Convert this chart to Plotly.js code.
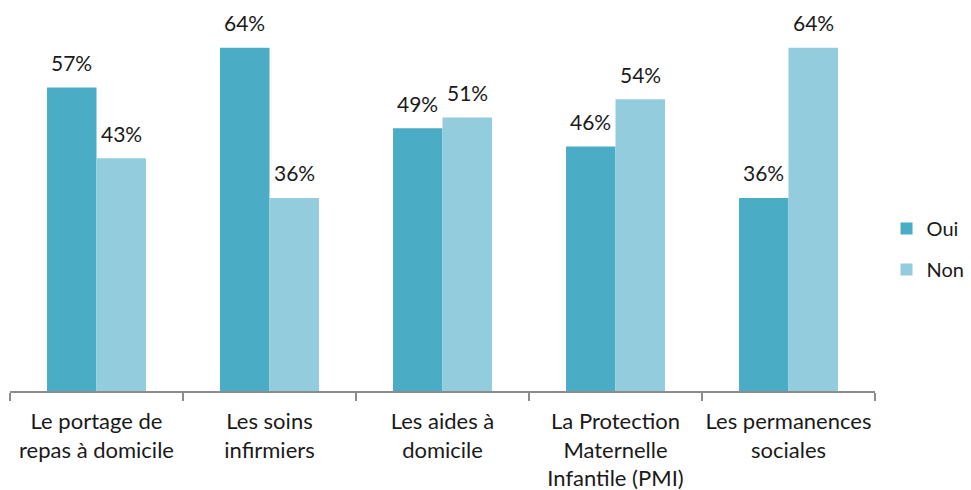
<!DOCTYPE html>
<html><head><meta charset="utf-8">
<script src="https://cdn.plot.ly/plotly-3.0.1.min.js"></script>
<style>body{margin:0;background:#fff}#c{width:971px;height:490px}</style>
</head><body><div id="c"></div>
<script>
var categories = ["Le portage de<br>repas à domicile", "Les soins<br>infirmiers", "Les aides à<br>domicile", "La Protection<br>Maternelle<br>Infantile (PMI)", "Les permanences<br>sociales"];
var ouiValues = [56.6, 64, 49, 45.6, 36];
var nonValues = [43.4, 36, 51, 54.4, 64];
var ouiLabels = ["57%", "64%", "49%", "46%", "36%"];
var nonLabels = ["43%", "36%", "51%", "54%", "64%"];

var font = "Lato, 'Open Sans', sans-serif";
var traces = [
  {type: "bar", name: "Oui", x: categories, y: ouiValues, marker: {color: "#4BACC6"}, legendgroup: "a", hoverinfo: "skip"},
  {type: "bar", name: "Non", x: categories, y: nonValues, marker: {color: "#93CDDD"}, legendgroup: "b", hoverinfo: "skip"}
];
var barShift = 24.75;
var annotations = [];
categories.forEach(function (c, i) {
  annotations.push({x: c, y: ouiValues[i], text: ouiLabels[i], showarrow: false, xshift: -barShift, yshift: 25, yanchor: "middle", font: {family: font, size: 21, color: "#1a1a1a"}});
  annotations.push({x: c, y: nonValues[i], text: nonLabels[i], showarrow: false, xshift: barShift, yshift: 25, yanchor: "middle", font: {family: font, size: 21, color: "#1a1a1a"}});
});
var layout = {
  width: 971, height: 490,
  margin: {l: 10, r: 96, t: 21, b: 99, autoexpand: false},
  paper_bgcolor: "#fff", plot_bgcolor: "#fff",
  barmode: "group", bargap: 0.428, bargroupgap: 0,
  font: {family: font, size: 21, color: "#1a1a1a"},
  showlegend: true,
  legend: {xref: "container", yref: "container", x: 0.913, xanchor: "left", y: 0.492, yanchor: "middle", traceorder: "grouped", tracegroupgap: 12, itemwidth: 30, font: {family: font, size: 20, color: "#1a1a1a"}},
  xaxis: {type: "category", range: [-0.5, 4.5], tickangle: 0, showline: true, linecolor: "#8c8c8c", linewidth: 1.5, ticks: "outside", tickson: "boundaries", ticklen: 8, tickcolor: "#8c8c8c", tickwidth: 1.5, showgrid: false, zeroline: false, ticklabelstandoff: 10, tickfont: {family: font, size: 22, color: "#1a1a1a"}},
  yaxis: {range: [0, 69], visible: false, showgrid: false, zeroline: false},
  annotations: annotations
};
Plotly.newPlot("c", traces, layout, {displayModeBar: false, staticPlot: true});
</script></body></html>
